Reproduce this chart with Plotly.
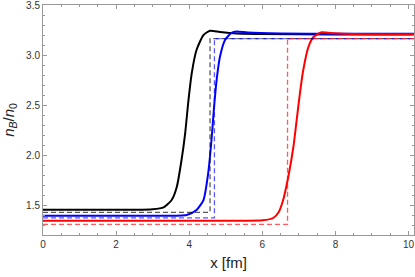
import plotly.graph_objects as go

# Solid curves
black_x = [0, 2.5, 3.0, 3.3, 3.52, 3.66, 3.79, 3.89, 3.98, 4.07, 4.20, 4.39, 4.57, 4.84, 5.3, 6.0, 8.0, 10.5]
black_y = [1.452, 1.452, 1.457, 1.477, 1.55, 1.68, 1.95, 2.22, 2.55, 2.82, 3.05, 3.20, 3.243, 3.23, 3.215, 3.21, 3.205, 3.205]

blue_x = [0, 3.0, 3.93, 4.20, 4.39, 4.52, 4.61, 4.68, 4.75, 4.84, 4.98, 5.16, 5.3, 5.6, 6.5, 8.0, 10.5]
blue_y = [1.392, 1.392, 1.40, 1.45, 1.55, 1.82, 2.15, 2.48, 2.75, 2.98, 3.15, 3.223, 3.235, 3.225, 3.215, 3.212, 3.212]

red_x = [0, 5.5, 6.0, 6.3, 6.45, 6.57, 6.71, 6.85, 6.94, 7.03, 7.12, 7.26, 7.40, 7.62, 7.99, 8.5, 10.5]
red_y = [1.343, 1.343, 1.347, 1.37, 1.43, 1.55, 1.78, 2.08, 2.35, 2.62, 2.85, 3.08, 3.18, 3.227, 3.217, 3.21, 3.208]

# Dashed step profiles: [start, step position, end]
black_step_x = [0, 4.57, 10.5]
black_step_y = [1.427, 3.165, 3.165]
blue_step_x = [0, 4.69, 10.5]
blue_step_y = [1.372, 3.165, 3.165]
red_step_x = [0, 6.69, 10.5]
red_step_y = [1.307, 3.165, 3.165]

x_ticks = [0, 2, 4, 6, 8, 10]
y_ticks = [1.5, 2.0, 2.5, 3.0, 3.5]

fig = go.Figure()

for xs, ys, col in [(black_x, black_y, "#000000"), (blue_x, blue_y, "#0000ff"), (red_x, red_y, "#ff0000")]:
    fig.add_trace(go.Scatter(x=xs, y=ys, mode="lines",
                             line=dict(color=col, width=2, shape="spline", smoothing=0.6),
                             showlegend=False, hoverinfo="skip"))

for xs, ys, col in [(black_step_x, black_step_y, "rgba(0,0,0,0.65)"),
                    (blue_step_x, blue_step_y, "rgba(0,0,255,0.65)"),
                    (red_step_x, red_step_y, "rgba(255,0,0,0.65)")]:
    fig.add_trace(go.Scatter(x=xs, y=ys, mode="lines",
                             line=dict(color=col, width=1.3, shape="hv", dash="5px,3px"),
                             showlegend=False, hoverinfo="skip"))

axis_common = dict(
    showgrid=False, zeroline=False, showline=True, linecolor="#999999", linewidth=1,
    ticks="inside", ticklen=4, tickcolor="#999999", mirror="ticks",
    ticklabeloverflow="allow",
    tickfont=dict(family="Liberation Sans, Arial, sans-serif", size=10, color="#333333"),
)

fig.update_xaxes(range=[0, 10.15], tickvals=x_ticks, ticktext=[str(v) for v in x_ticks],
                 minor=dict(dtick=0.5, ticks="inside", ticklen=2, tickcolor="#999999"),
                 title=dict(text="x [fm]", font=dict(family="Liberation Sans, Arial, sans-serif", size=15, color="#222222"),
                            standoff=8),
                 **axis_common)
fig.update_yaxes(range=[1.2, 3.5005], tickvals=y_ticks, ticktext=[f"{v:.1f}" for v in y_ticks],
                 minor=dict(dtick=0.1, ticks="inside", ticklen=2, tickcolor="#999999"),
                 title=dict(text="<i>n</i><sub><i>B</i></sub>/<i>n</i><sub>0</sub>",
                            font=dict(family="Liberation Sans, Arial, sans-serif", size=15, color="#222222"),
                            standoff=8),
                 **axis_common)

fig.update_layout(width=415, height=277, margin=dict(l=43, r=1, t=5, b=42, autoexpand=False),
                  plot_bgcolor="white", paper_bgcolor="white")

fig.write_html("out.html", config={"displayModeBar": False},
               post_script="document.body.style.margin='0px';document.body.style.overflow='hidden';")
